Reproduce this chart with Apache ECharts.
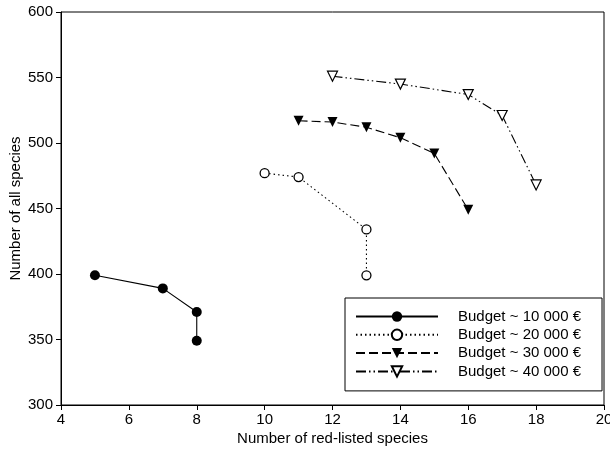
<!DOCTYPE html>
<html>
<head>
<meta charset="utf-8">
<style>html,body{margin:0;padding:0;background:#fff}#c{width:610px;height:450px}</style>
<script src="https://cdn.jsdelivr.net/npm/echarts@6/dist/echarts.min.js"></script>
</head>
<body>
<div id="c"></div>
<script>
const seriesNames = ['Budget ~ 10 000 €', 'Budget ~ 20 000 €', 'Budget ~ 30 000 €', 'Budget ~ 40 000 €'];
const x10k = [5, 7, 8, 8];
const y10k = [399, 389, 371, 349];
const x20k = [10, 11, 13, 13];
const y20k = [477, 474, 434, 399];
const x30k = [11, 12, 13, 14, 15, 16];
const y30k = [517, 516, 512, 504, 492, 449];
const x40k = [12, 14, 16, 17, 18];
const y40k = [551, 545, 537, 521, 468];
const xTicks = [4, 6, 8, 10, 12, 14, 16, 18, 20];
const yTicks = [300, 350, 400, 450, 500, 550, 600];

function pairs(xs, ys) { return xs.map((x, i) => [x, ys[i]]); }

const FONT = '"Liberation Sans", Arial, sans-serif';
const chart = echarts.init(document.getElementById('c'), null, { renderer: 'canvas' });
const styles = [
  { symbol: 'circle', size: 10, fill: '#000', border: 0, rot: 0, type: 'solid' },
  { symbol: 'circle', size: 9, fill: '#fff', border: 1.3, rot: 0, type: [1.5, 3] },
  { symbol: 'triangle', size: 10, fill: '#000', border: 0, rot: 180, type: [9, 4] },
  { symbol: 'triangle', size: 10, fill: '#fff', border: 1.2, rot: 180, type: [10, 3, 1.5, 3, 1.5, 3] }
];
const datas = [pairs(x10k, y10k), pairs(x20k, y20k), pairs(x30k, y30k), pairs(x40k, y40k)];

chart.setOption({
  animation: false,
  backgroundColor: '#fff',
  grid: { left: 61, right: 6, top: 12, bottom: 45, outerBoundsMode: 'none', containLabel: false,
          show: true, borderColor: '#000', borderWidth: 1, backgroundColor: 'transparent' },
  xAxis: {
    type: 'value', min: xTicks[0], max: xTicks[xTicks.length - 1], interval: 2,
    name: 'Number of red-listed species', nameLocation: 'middle', nameGap: 26, nameMoveOverlap: false,
    nameTextStyle: { color: '#000', fontSize: 15, fontFamily: FONT },
    axisLine: { show: true, onZero: false, lineStyle: { color: '#000', width: 1 } },
    axisTick: { show: true, inside: false, length: 5, lineStyle: { color: '#000' } },
    axisLabel: { color: '#000', fontSize: 15, fontFamily: FONT, margin: 7, showMinLabel: true, showMaxLabel: true, hideOverlap: false },
    splitLine: { show: false }
  },
  yAxis: {
    type: 'value', min: yTicks[0], max: yTicks[yTicks.length - 1], interval: 50,
    name: 'Number of all species', nameLocation: 'middle', nameGap: 38, nameRotate: 90, nameMoveOverlap: false,
    nameTextStyle: { color: '#000', fontSize: 15, fontFamily: FONT },
    axisLine: { show: true, onZero: false, lineStyle: { color: '#000', width: 1 } },
    axisTick: { show: true, inside: false, length: 5, lineStyle: { color: '#000' } },
    axisLabel: { color: '#000', fontSize: 15, fontFamily: FONT, margin: 8 },
    splitLine: { show: false }
  },
  legend: {
    left: 345, top: 298, orient: 'vertical',
    padding: [11, 21, 12, 10],
    itemWidth: 82, itemHeight: 13, itemGap: 3.3,
    borderColor: '#000', borderWidth: 1, backgroundColor: '#fff',
    textStyle: { color: '#000', fontSize: 15, fontFamily: FONT, padding: [0, 0, 0, 15] },
    data: seriesNames
  },
  series: datas.map((d, i) => ({
    name: seriesNames[i], type: 'line', data: d,
    symbol: styles[i].symbol, symbolSize: styles[i].size, symbolRotate: styles[i].rot,
    showAllSymbol: true,
    lineStyle: { color: '#000', width: 1.1, type: styles[i].type },
    itemStyle: { color: styles[i].fill, borderColor: '#000', borderWidth: styles[i].border }
  }))
});
</script>
</body>
</html>
